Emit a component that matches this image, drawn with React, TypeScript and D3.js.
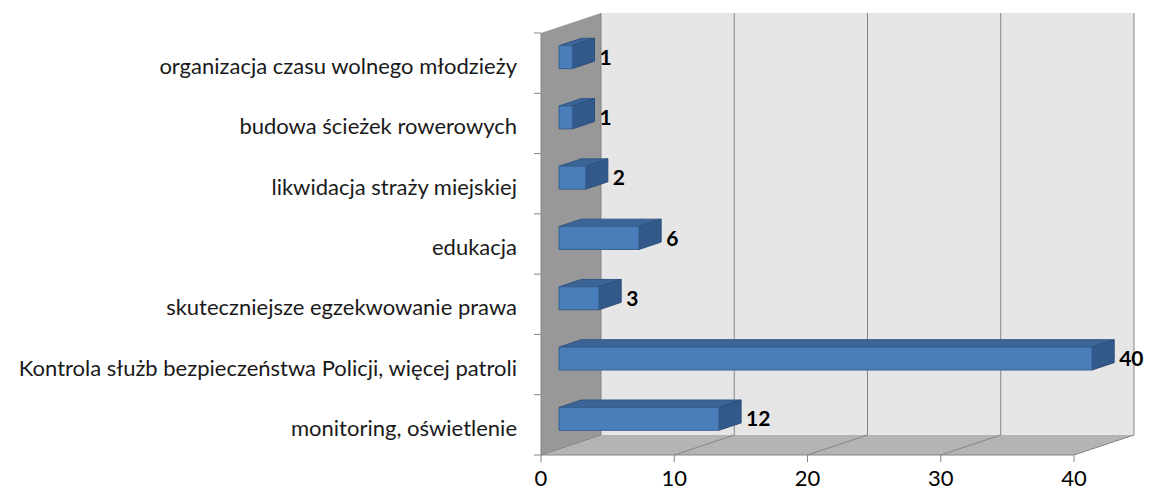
import React from 'react';
import * as d3 from 'd3';

const categories = [
  'organizacja czasu wolnego młodzieży',
  'budowa ścieżek rowerowych',
  'likwidacja straży miejskiej',
  'edukacja',
  'skuteczniejsze egzekwowanie prawa',
  'Kontrola służb bezpieczeństwa Policji, więcej patroli',
  'monitoring, oświetlenie',
];
const values = [1, 1, 2, 6, 3, 40, 12];
const xTicks = [0, 10, 20, 30, 40];

const W = 1149;
const H = 496;
const depthX = 60;
const depthY = -20;

export default function App() {
  const x = d3.scaleLinear().domain([0, 40]).range([541, 1074]);
  const y = d3.scaleBand().domain(categories).range([33, 455]);
  const bw = y.bandwidth();
  const P = (px: number, py: number, d: number) => [px + d * depthX, py + d * depthY];
  const poly = (pts: number[][]) => pts.map(p => p.join(',')).join(' ');

  const x0 = x(0), x1 = x(40);
  const yTop = 33, yBot = 455;
  const font = 'Lato, "Open Sans", sans-serif';

  const leftWall = [P(x0, yTop, 0), P(x0, yTop, 1), P(x0, yBot, 1), P(x0, yBot, 0)];
  const backWall = [P(x0, yTop, 1), P(x1, yTop, 1), P(x1, yBot, 1), P(x0, yBot, 1)];
  const floor = [P(x0, yBot, 0), P(x0, yBot, 1), P(x1, yBot, 1), P(x1, yBot, 0)];

  const dFront = 0.3, dBack = 0.67;
  const barH = bw * 0.38;

  return (
    <svg width={W} height={H} style={{ position: 'absolute', left: 0, top: 0, background: '#fff' }}>
      <polygon points={poly(backWall)} fill="#e6e6e6" />
      <polygon points={poly(leftWall)} fill="#989898" />
      <polygon points={poly(floor)} fill="#b4b4b4" />
      {/* grid lines on back wall and floor */}
      {xTicks.map(t => {
        const a = P(x(t), yBot, 0), b = P(x(t), yBot, 1), c = P(x(t), yTop, 1);
        return (
          <g key={'g' + t}>
            <line x1={a[0]} y1={a[1]} x2={b[0]} y2={b[1]} stroke="#858585" strokeWidth={1} />
            <line x1={b[0]} y1={b[1]} x2={c[0]} y2={c[1]} stroke="#858585" strokeWidth={1} />
          </g>
        );
      })}
      {/* x axis */}
      <line x1={x0} y1={yBot} x2={x1} y2={yBot} stroke="#858585" />
      {xTicks.map(t => (
        <g key={'t' + t}>
          <line x1={x(t)} y1={yBot} x2={x(t)} y2={yBot + 7} stroke="#858585" />
          <text x={x(t)} y={yBot + 31} textAnchor="middle" fontFamily={font} fontSize={22} fill="#000">{t}</text>
        </g>
      ))}
      {/* category axis */}
      <line x1={x0} y1={yTop} x2={x0} y2={yBot} stroke="#858585" />
      {[...categories.map(c => y(c) as number), yBot].map((v, i) => (
        <line key={'ct' + i} x1={x0 - 7} y1={v} x2={x0} y2={v} stroke="#858585" />
      ))}
      {categories.map(c => (
        <text key={'cl' + c} x={517} y={(y(c) as number) + bw / 2 + 11} textAnchor="end" fontFamily={font} fontSize={22} fill="#1a1a1a">{c}</text>
      ))}
      {/* bars */}
      {categories.map((c, i) => {
        const v = values[i];
        const cy = (y(c) as number) + bw / 2;
        const t = cy - barH / 2, b = cy + barH / 2;
        const xa = x(0), xb = x(v);
        const front = [P(xa, t, dFront), P(xb, t, dFront), P(xb, b, dFront), P(xa, b, dFront)];
        const top = [P(xa, t, dFront), P(xb, t, dFront), P(xb, t, dBack), P(xa, t, dBack)];
        const side = [P(xb, t, dFront), P(xb, t, dBack), P(xb, b, dBack), P(xb, b, dFront)];
        const lab = P(xb, cy, dBack);
        return (
          <g key={'b' + c}>
            <polygon points={poly(top)} fill="#3c6597" stroke="#325683" strokeWidth={1} />
            <polygon points={poly(side)} fill="#32598a" stroke="#2c4f7c" strokeWidth={1} />
            <polygon points={poly(front)} fill="#4a7ebb" stroke="#36608f" strokeWidth={1} />
            <text x={lab[0] + 5} y={lab[1] + 15} fontFamily={font} fontSize={21} fontWeight="bold" fill="#000">{v}</text>
          </g>
        );
      })}
    </svg>
  );
}
